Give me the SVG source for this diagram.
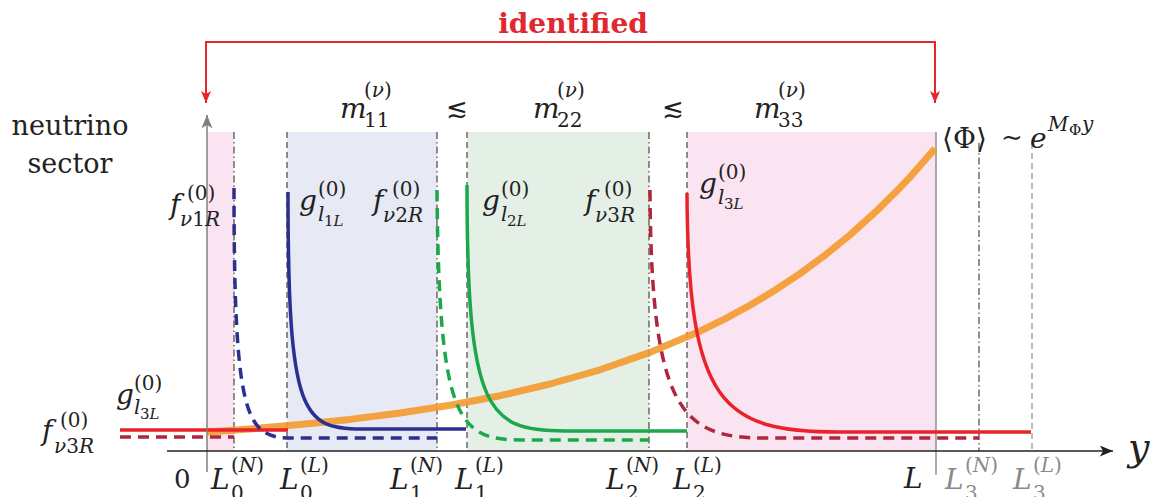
<svg xmlns="http://www.w3.org/2000/svg" width="1153" height="497" viewBox="0 0 1153 497" font-family="'DejaVu Serif', serif">
<defs>
<style>
.t{fill:#222}
.it{font-style:italic}
.m{font-size:28px}
.s{font-size:20px}
.ss{font-size:15px}
.gr{fill:#8a8a8a}
.vd{stroke:#555;stroke-width:1.3;fill:none}
.dn{stroke-dasharray:7 3 1.5 3}
.dl{stroke-dasharray:6 4}
.cv{fill:none;stroke-width:3.5}
.dash{stroke-dasharray:11 7}
</style>
<marker id="ra" viewBox="0 0 12 10" refX="12" refY="5" markerWidth="12" markerHeight="10" markerUnits="userSpaceOnUse" orient="auto-start-reverse"><path d="M0,0 L12,5 L0,10 L3,5 z" fill="#e8262a"/></marker>
<marker id="ga" viewBox="0 0 12 10" refX="12" refY="5" markerWidth="14" markerHeight="11" markerUnits="userSpaceOnUse" orient="auto"><path d="M0,0 L12,5 L0,10 L3,5 z" fill="#808080"/></marker>
<marker id="ka" viewBox="0 0 12 10" refX="12" refY="5" markerWidth="16" markerHeight="11" markerUnits="userSpaceOnUse" orient="auto"><path d="M0,0 L12,5 L0,10 L3,5 z" fill="#222"/></marker>
</defs>
<rect width="1153" height="497" fill="#fff"/>

<g id="regions">
<rect x="207" y="132" width="27" height="319" fill="#fbe4f1"/>
<rect x="287" y="132" width="150" height="319" fill="#e7e9f4"/>
<rect x="467" y="132" width="182" height="319" fill="#e4f0e6"/>
<rect x="687" y="132" width="249" height="319" fill="#fbe4f1"/>
</g>

<g id="boundaries">
<line class="vd dn" x1="234" y1="132" x2="234" y2="451"/>
<line class="vd dl" x1="287" y1="132" x2="287" y2="451"/>
<line class="vd dn" x1="437" y1="132" x2="437" y2="451"/>
<line class="vd dl" x1="467" y1="132" x2="467" y2="451"/>
<line class="vd dn" x1="649" y1="132" x2="649" y2="451"/>
<line class="vd dl" x1="687" y1="132" x2="687" y2="451"/>
<line x1="936" y1="132" x2="936" y2="475" stroke="#888" stroke-width="1.4"/>
<line class="vd dn" x1="979" y1="143" x2="979" y2="451"/>
<line class="vd dl" x1="1032" y1="143" x2="1032" y2="451" style="stroke:#999"/>
</g>

<g id="orange-vev">
<path d="M207,432 L250,428.9 L300,424.6 L350,419.4 L400,413 L450,405.2 L500,395.7 L550,384 L600,369.8 L650,352.4 L700,331.2 L725,318.9 L750,305.3 L775,290.2 L800,273.6 L825,255.2 L850,234.9 L875,212.4 L900,187.7 L910,177.1 L935,148.5" fill="none" stroke="#f39a2c" stroke-width="7" stroke-linejoin="round" opacity="0.9"/>
</g>

<g id="profiles">
<path class="cv" stroke="#e8232a" d="M120,430 H288"/>
<path class="cv dash" stroke="#b0263a" d="M120,437 H234"/>
<path class="cv dash" stroke="#2b2f8f" d="M234,188 C234,420 246,438 292,438 L437,438"/>
<path class="cv" stroke="#2b2f8f" d="M288,192 C288,415 302,429 362,429 L466,429"/>
<path class="cv dash" stroke="#1aa84a" d="M437,190 C439,420 457,440 522,440 L649,440"/>
<path class="cv" stroke="#1aa84a" d="M467,185 C467,412 487,431 565,431 L687,431"/>
<path class="cv dash" stroke="#b0263a" d="M650,190 C651,412 682,438 765,438 L979,438"/>
<path class="cv" stroke="#e8232a" d="M687,193 C688,405 722,432 840,432 L1031,432"/>
</g>

<g id="axes">
<line x1="207" y1="472" x2="207" y2="115" stroke="#808080" stroke-width="1.5" marker-end="url(#ga)"/>
<line x1="167" y1="451" x2="1113" y2="451" stroke="#222" stroke-width="1.5" marker-end="url(#ka)"/>
</g>

<g id="identified">
<path d="M206,103 V42 H935 V103" fill="none" stroke="#e8262a" stroke-width="2" marker-start="url(#ra)" marker-end="url(#ra)"/>
<text x="573" y="33" font-size="28" font-weight="bold" text-anchor="middle" fill="#e0282e">identified</text>
</g>

<g id="sector-label">
<text class="t" x="70" y="135" font-size="27" text-anchor="middle">neutrino</text>
<text class="t" x="70" y="173" font-size="27" text-anchor="middle">sector</text>
</g>

<g id="masses">
<text class="t it m" x="340" y="118">m</text><text class="t s" x="364" y="97">(<tspan class="it">ν</tspan>)</text><text class="t s" x="364" y="127">11</text>
<text class="t" x="446" y="117" font-size="26">≲</text>
<text class="t it m" x="533" y="118">m</text><text class="t s" x="557" y="97">(<tspan class="it">ν</tspan>)</text><text class="t s" x="557" y="127">22</text>
<text class="t" x="662" y="117" font-size="26">≲</text>
<text class="t it m" x="754" y="118">m</text><text class="t s" x="778" y="97">(<tspan class="it">ν</tspan>)</text><text class="t s" x="778" y="127">33</text>
</g>

<g id="vev-label">
<text class="t" x="942" y="148" font-size="28">⟨Φ⟩</text>
<text class="t" x="1001" y="146" font-size="26">∼</text>
<text class="t it" x="1030" y="148" font-size="28">e</text>
<text class="t it s" x="1048" y="131">M</text>
<text class="t ss" x="1069" y="135">Φ</text>
<text class="t it s" x="1082" y="131">y</text>
</g>

<g id="profile-labels">
<text class="t it m" x="170" y="214">f</text><text class="t s" x="187" y="200">(0)</text><text class="t s" x="180" y="226"><tspan class="it">ν</tspan>1<tspan class="it">R</tspan></text>
<text class="t it m" x="299" y="210">g</text><text class="t s" x="318" y="196">(0)</text><text class="t it s" x="318" y="221">l</text><text class="t ss" x="324" y="226">1<tspan class="it">L</tspan></text>
<text class="t it m" x="373" y="210">f</text><text class="t s" x="392" y="196">(0)</text><text class="t s" x="383" y="222"><tspan class="it">ν</tspan>2<tspan class="it">R</tspan></text>
<text class="t it m" x="482" y="210">g</text><text class="t s" x="501" y="196">(0)</text><text class="t it s" x="501" y="221">l</text><text class="t ss" x="507" y="226">2<tspan class="it">L</tspan></text>
<text class="t it m" x="585" y="210">f</text><text class="t s" x="604" y="196">(0)</text><text class="t s" x="595" y="222"><tspan class="it">ν</tspan>3<tspan class="it">R</tspan></text>
<text class="t it m" x="699" y="193">g</text><text class="t s" x="718" y="179">(0)</text><text class="t it s" x="718" y="204">l</text><text class="t ss" x="724" y="209">3<tspan class="it">L</tspan></text>
<text class="t it m" x="116" y="404">g</text><text class="t s" x="134" y="390">(0)</text><text class="t it s" x="134" y="414">l</text><text class="t ss" x="140" y="419">3<tspan class="it">L</tspan></text>
<text class="t it m" x="42" y="440">f</text><text class="t s" x="60" y="427">(0)</text><text class="t s" x="54" y="453"><tspan class="it">ν</tspan>3<tspan class="it">R</tspan></text>
</g>

<g id="axis-labels">
<text class="t" x="174" y="488" font-size="26">0</text>
<text class="t it m" x="211" y="489">L</text><text class="t s" x="231" y="472">(<tspan class="it">N</tspan>)</text><text class="t s" x="231" y="500">0</text>
<text class="t it m" x="280" y="489">L</text><text class="t s" x="300" y="472">(<tspan class="it">L</tspan>)</text><text class="t s" x="300" y="500">0</text>
<text class="t it m" x="390" y="489">L</text><text class="t s" x="410" y="472">(<tspan class="it">N</tspan>)</text><text class="t s" x="410" y="500">1</text>
<text class="t it m" x="455" y="489">L</text><text class="t s" x="475" y="472">(<tspan class="it">L</tspan>)</text><text class="t s" x="475" y="500">1</text>
<text class="t it m" x="606" y="489">L</text><text class="t s" x="626" y="472">(<tspan class="it">N</tspan>)</text><text class="t s" x="626" y="500">2</text>
<text class="t it m" x="673" y="489">L</text><text class="t s" x="693" y="472">(<tspan class="it">L</tspan>)</text><text class="t s" x="693" y="500">2</text>
<text class="t it m" x="904" y="488">L</text>
<text class="t it m gr" x="945" y="489">L</text><text class="t s gr" x="965" y="472">(<tspan class="it">N</tspan>)</text><text class="t s gr" x="965" y="500">3</text>
<text class="t it m gr" x="1013" y="489">L</text><text class="t s gr" x="1033" y="472">(<tspan class="it">L</tspan>)</text><text class="t s gr" x="1033" y="500">3</text>
<text class="t it" x="1128" y="460" font-size="38">y</text>
</g>
</svg>
